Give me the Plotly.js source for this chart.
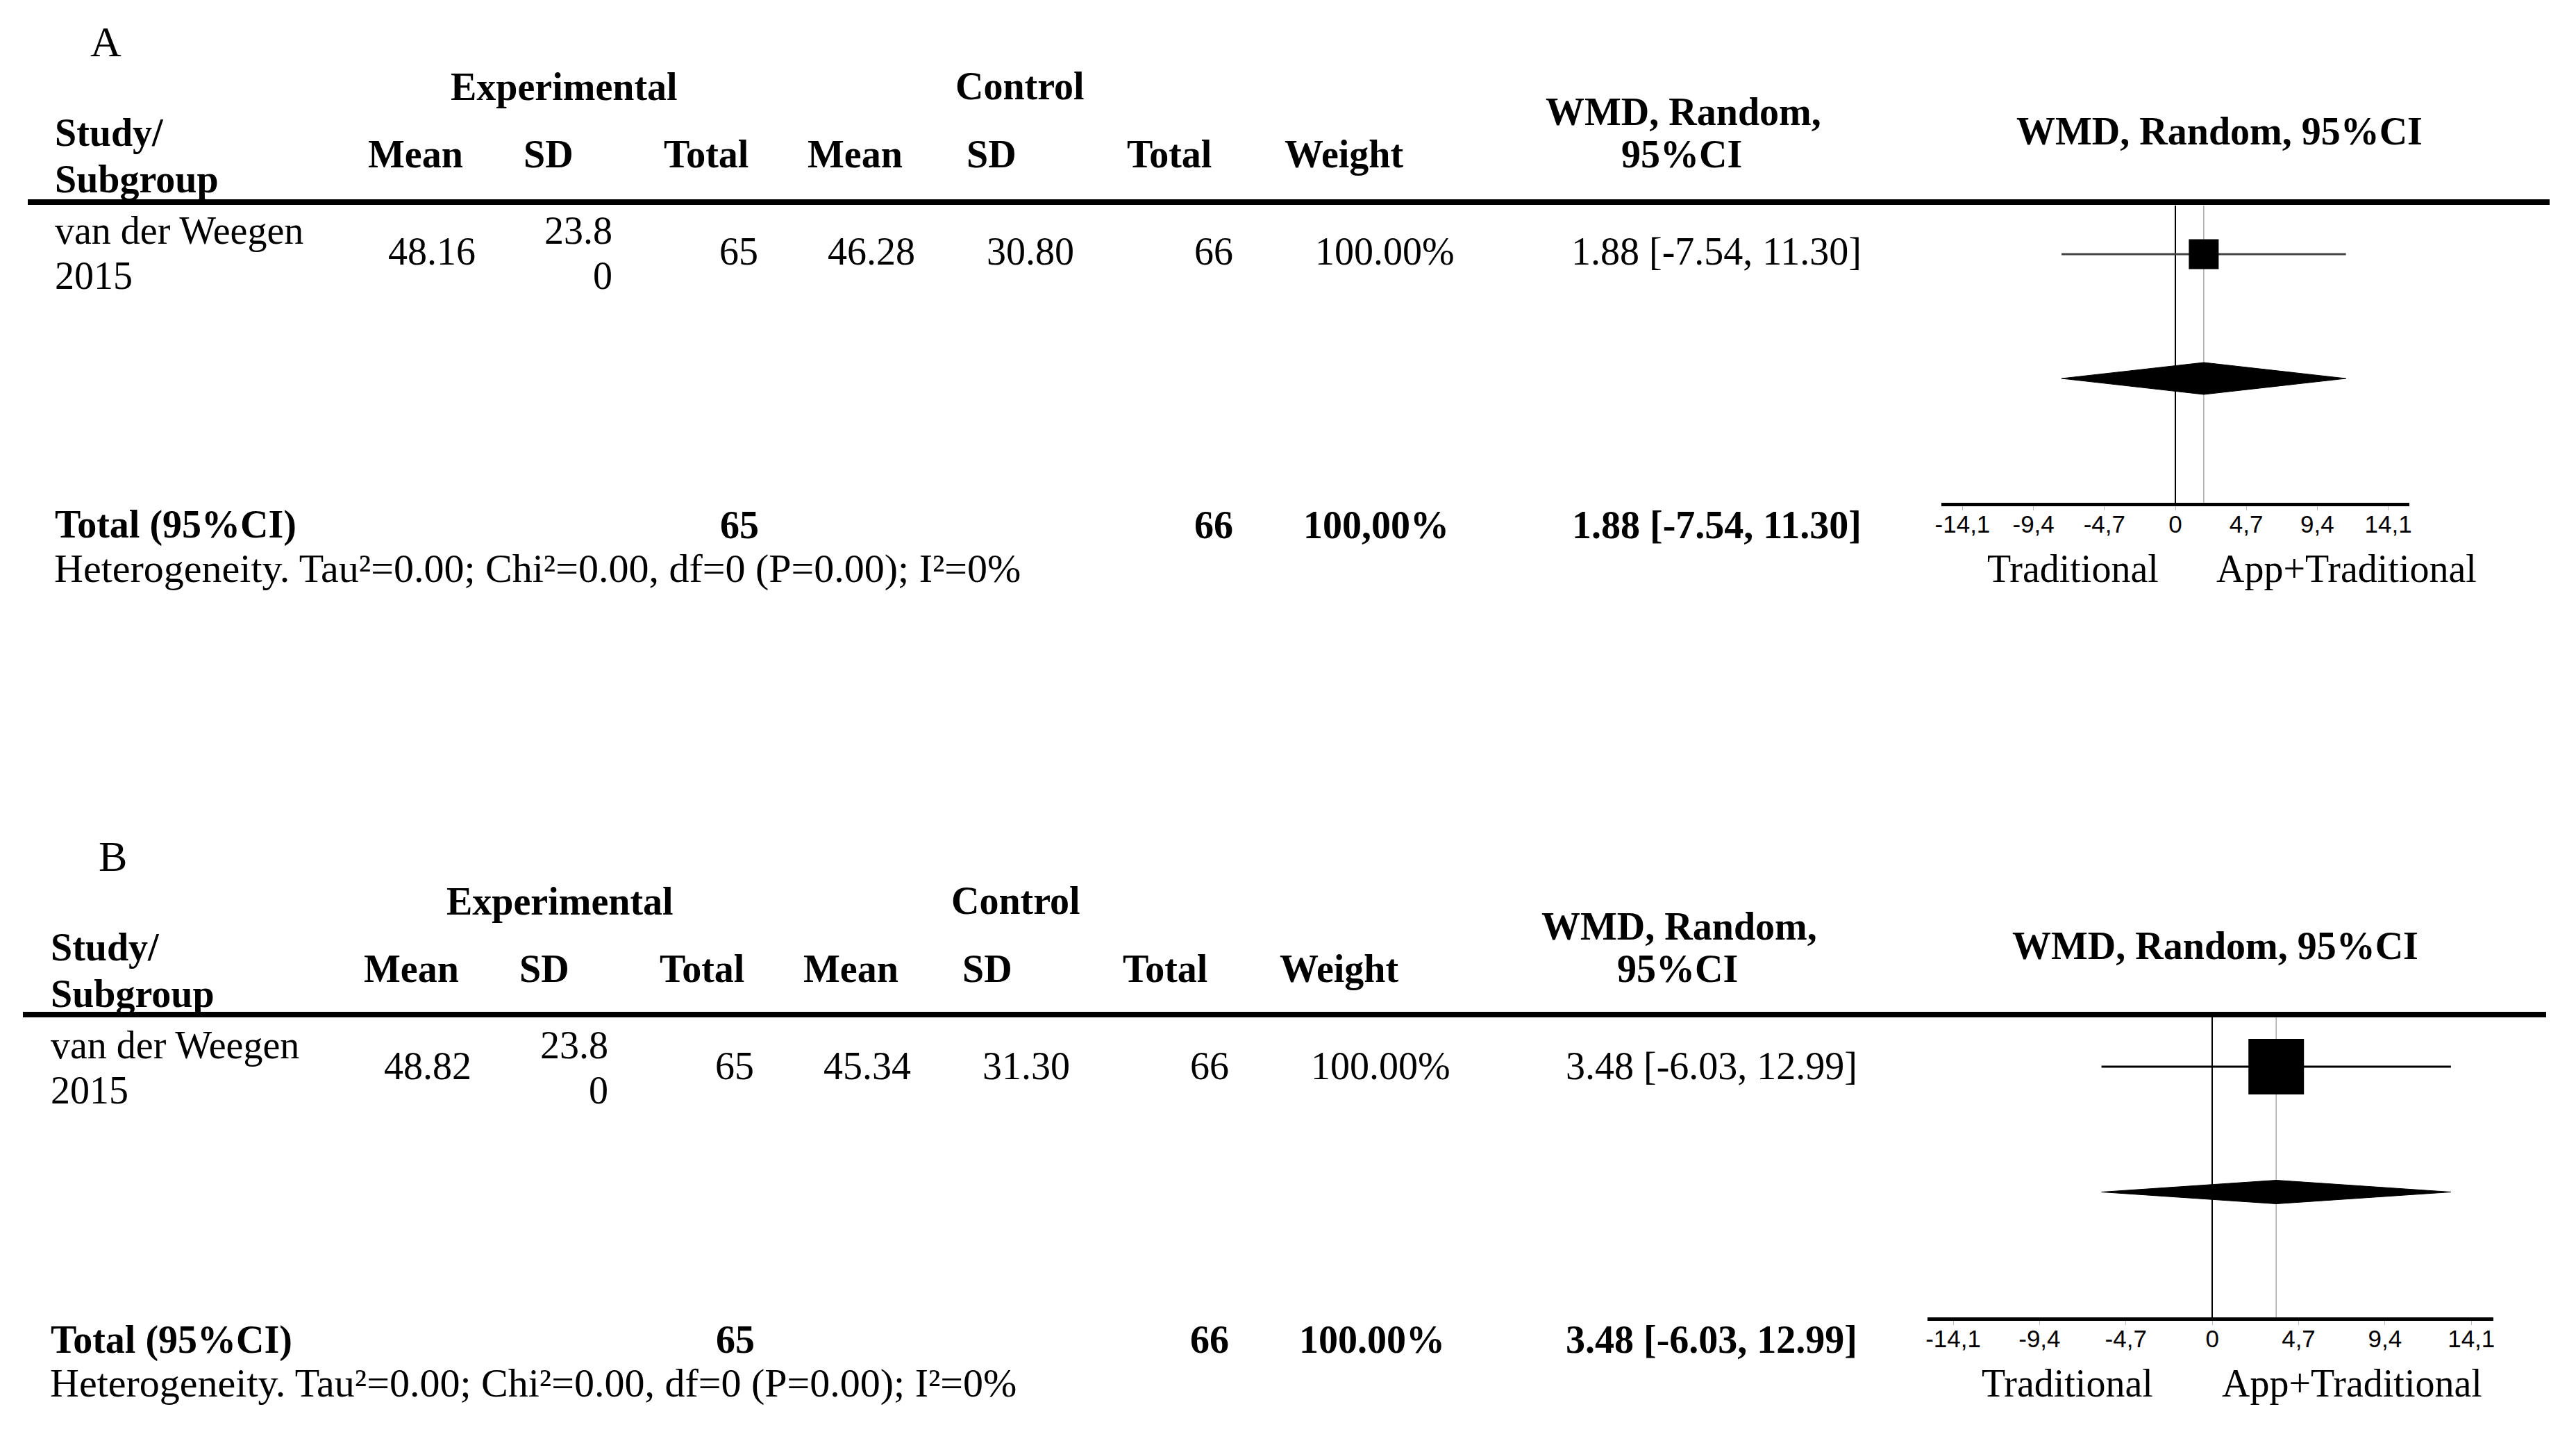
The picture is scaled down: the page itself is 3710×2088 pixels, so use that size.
<!DOCTYPE html>
<html>
<head>
<meta charset="utf-8">
<script src="https://cdn.plot.ly/plotly-3.0.1.min.js"></script>
<style>html,body{margin:0;padding:0;background:#fff;}#chart{width:3710px;height:2088px;}</style>
</head>
<body>
<div id="chart"></div>
<script>
// ---------------- data ----------------
const panelLabels = ['A', 'B'];
const studyName = ['van der Weegen', 'van der Weegen'];
const studyYear = ['2015', '2015'];
const expMean = [48.16, 48.82];
const expSD = [23.80, 23.80];
const expTotal = [65, 65];
const ctrlMean = [46.28, 45.34];
const ctrlSD = [30.80, 31.30];
const ctrlTotal = [66, 66];
const studyWeight = ['100.00%', '100.00%'];
const totalWeight = ['100,00%', '100.00%'];
const wmd = [1.88, 3.48];
const ciLow = [-7.54, -6.03];
const ciHigh = [11.30, 12.99];
const pooledWmd = [1.88, 3.48];
const pooledLow = [-7.54, -6.03];
const pooledHigh = [11.30, 12.99];
const tau2 = [0.00, 0.00];
const chi2 = [0.00, 0.00];
const dfHet = [0, 0];
const pHet = [0.00, 0.00];
const i2 = [0, 0];
const tickVals = [-14.1, -9.4, -4.7, 0, 4.7, 9.4, 14.1];
const tickText = ['-14,1', '-9,4', '-4,7', '0', '4,7', '9,4', '14,1'];
const favourLeft = 'Traditional';
const favourRight = 'App+Traditional';

// ---------------- layout geometry ----------------
const W = 3710, H = 2088;
const SERIF = 'Liberation Serif, Times New Roman, serif';
const NARROW = 'Liberation Sans Narrow, Arial Narrow, Liberation Sans, Arial, sans-serif';
const FS = 56;
const geo = [
  {dx: 0, dy: 0, labelX: 152, ruleY: 291, ruleX0: 40, ruleX1: 3672, plotX0: 2796, plotX1: 3470,
   axisY: 724, topY: 296, studyY: 366, xRange: [-15.5, 15.5], sq: 43, diaHalf: 23,
   ciColor: '#444', trad: 2985, app: 3379},
  {dx: -6, dy: 1173, labelX: 162, ruleY: 1461, ruleX0: 33, ruleX1: 3667, plotX0: 2776, plotX1: 3591,
   axisY: 1897, topY: 1465, studyY: 1536, xRange: [-15.5, 15.3], sq: 80, diaHalf: 17,
   ciColor: '#000', trad: 2977, app: 3387}
];

function fx(x) { return x / W; }
function fy(y) { return 1 - y / H; }
function ann(text, x, y, xanchor, size, bold) {
  return {
    text: bold ? '<b>' + text + '</b>' : text,
    x: fx(x), y: fy(y), xref: 'paper', yref: 'paper',
    xanchor: xanchor, yanchor: 'middle', showarrow: false,
    font: {family: SERIF, size: size || FS, color: '#000'}
  };
}
const f2 = v => v.toFixed(2);

const traces = [];
const annotations = [];
const shapes = [];
const layout = {
  width: W, height: H,
  margin: {l: 0, r: 0, t: 0, b: 0},
  paper_bgcolor: '#fff', plot_bgcolor: 'rgba(0,0,0,0)',
  showlegend: false,
  annotations: annotations, shapes: shapes
};

geo.forEach((g, i) => {
  const xa = i === 0 ? 'x' : 'x2';
  const ya = i === 0 ? 'y' : 'y2';
  const rowPx = (g.axisY - g.studyY) / 2;
  const yTop = (g.axisY - g.topY) / rowPx;
  const h = g.diaHalf / rowPx;

  layout[i === 0 ? 'xaxis' : 'xaxis2'] = {
    domain: [fx(g.plotX0), fx(g.plotX1)], range: g.xRange, anchor: ya,
    showline: true, linewidth: 5, linecolor: '#000',
    showgrid: false, zeroline: true, zerolinecolor: '#000', zerolinewidth: 2,
    tickmode: 'array', tickvals: tickVals, ticktext: tickText,
    ticks: 'outside', ticklen: 6, tickwidth: 1, tickcolor: '#bbb',
    ticklabelstandoff: -10,
    tickfont: {family: NARROW, size: 35, color: '#000'},
    fixedrange: true
  };
  layout[i === 0 ? 'yaxis' : 'yaxis2'] = {
    domain: [fy(g.axisY), fy(g.topY)], range: [0, yTop], anchor: xa,
    visible: false, fixedrange: true
  };

  // pooled-estimate reference line
  traces.push({x: [pooledWmd[i], pooledWmd[i]], y: [0, yTop], xaxis: xa, yaxis: ya,
    mode: 'lines', line: {color: '#aaa', width: 1.5}, hoverinfo: 'skip'});
  // study CI
  traces.push({x: [ciLow[i], ciHigh[i]], y: [2, 2], xaxis: xa, yaxis: ya,
    mode: 'lines', line: {color: g.ciColor, width: 3}, hoverinfo: 'skip'});
  // study point estimate
  traces.push({x: [wmd[i]], y: [2], xaxis: xa, yaxis: ya, mode: 'markers',
    marker: {symbol: 'square', size: g.sq, color: '#000', line: {width: 0}}, hoverinfo: 'skip'});
  // pooled diamond
  traces.push({x: [pooledLow[i], pooledWmd[i], pooledHigh[i], pooledWmd[i], pooledLow[i]],
    y: [1, 1 + h, 1, 1 - h, 1], xaxis: xa, yaxis: ya, mode: 'lines', fill: 'toself',
    fillcolor: '#000', line: {color: '#000', width: 1}, hoverinfo: 'skip'});

  // header rule
  shapes.push({type: 'line', xref: 'paper', yref: 'paper',
    x0: fx(g.ruleX0), x1: fx(g.ruleX1), y0: fy(g.ruleY), y1: fy(g.ruleY),
    line: {color: '#000', width: 8}});

  const X = v => v + g.dx, Y = v => v + g.dy;
  annotations.push(ann(panelLabels[i], g.labelX, Y(60), 'center', 62, false));
  annotations.push(ann('Experimental', X(812), Y(125), 'center', FS, true));
  annotations.push(ann('Control', X(1469), Y(124), 'center', FS, true));
  annotations.push(ann('Study/', X(77), Y(191), 'left', FS, true));
  annotations.push(ann('Subgroup', X(77), Y(258), 'left', FS, true));
  [['Mean', 598], ['SD', 790], ['Total', 1017], ['Mean', 1231], ['SD', 1428], ['Total', 1684], ['Weight', 1935]]
    .forEach(([t, x]) => annotations.push(ann(t, X(x), Y(222), 'center', FS, true)));
  annotations.push(ann('WMD, Random,', X(2424), Y(161), 'center', FS, true));
  annotations.push(ann('95%CI', X(2422), Y(222), 'center', FS, true));
  annotations.push(ann('WMD, Random, 95%CI', X(3196), Y(189), 'center', FS, true));

  // study row
  const sd = f2(expSD[i]);
  annotations.push(ann(studyName[i], X(77), Y(332), 'left'));
  annotations.push(ann(studyYear[i], X(77), Y(397), 'left'));
  annotations.push(ann(f2(expMean[i]), X(622), Y(362), 'center'));
  annotations.push(ann(sd.slice(0, -1), X(884), Y(332), 'right'));
  annotations.push(ann(sd.slice(-1), X(884), Y(397), 'right'));
  annotations.push(ann(String(expTotal[i]), X(1064), Y(362), 'center'));
  annotations.push(ann(f2(ctrlMean[i]), X(1255), Y(362), 'center'));
  annotations.push(ann(f2(ctrlSD[i]), X(1484), Y(362), 'center'));
  annotations.push(ann(String(ctrlTotal[i]), X(1748), Y(362), 'center'));
  annotations.push(ann(studyWeight[i], X(1994), Y(362), 'center'));
  annotations.push(ann(f2(wmd[i]) + ' [' + f2(ciLow[i]) + ', ' + f2(ciHigh[i]) + ']', X(2683), Y(362), 'right'));

  // total row
  annotations.push(ann('Total (95%CI)', X(77), Y(756), 'left', FS, true));
  annotations.push(ann(String(expTotal[i]), X(1065), Y(756), 'center', FS, true));
  annotations.push(ann(String(ctrlTotal[i]), X(1748), Y(756), 'center', FS, true));
  annotations.push(ann(totalWeight[i], X(1982), Y(756), 'center', FS, true));
  annotations.push(ann(f2(pooledWmd[i]) + ' [' + f2(pooledLow[i]) + ', ' + f2(pooledHigh[i]) + ']', X(2683), Y(756), 'right', FS, true));

  annotations.push(ann('Heterogeneity. Tau\u00B2=' + f2(tau2[i]) + '; Chi\u00B2=' + f2(chi2[i]) +
    ', df=' + dfHet[i] + ' (P=' + f2(pHet[i]) + '); I\u00B2=' + i2[i] + '%', X(76), Y(819), 'left', 58));

  // favour labels
  annotations.push(ann(favourLeft, g.trad, g.axisY + 95, 'center'));
  annotations.push(ann(favourRight, g.app, g.axisY + 95, 'center'));
});

Plotly.newPlot('chart', traces, layout, {staticPlot: true, displayModeBar: false});
</script>
</body>
</html>
